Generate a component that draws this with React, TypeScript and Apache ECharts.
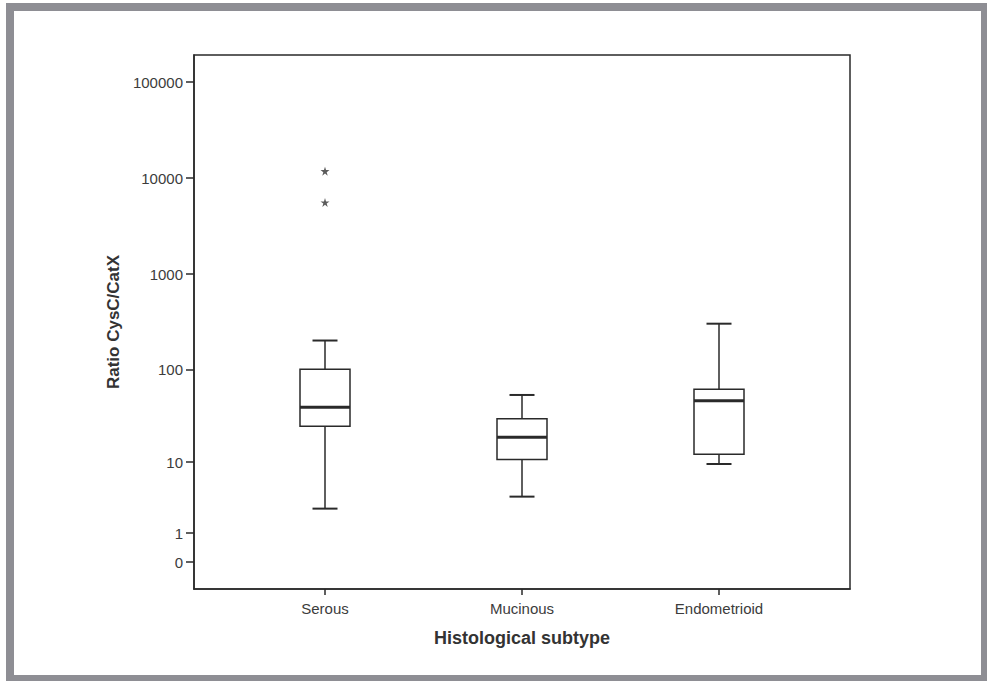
import React, { useEffect, useRef } from "react";
import * as echarts from "echarts";

// ---- Data ----
const categories = ["Serous", "Mucinous", "Endometrioid"];
const whiskerLow = [2.6, 3.8, 9.5];
const quartile1 = [25, 10.7, 12.3];
const medians = [40, 19, 47];
const quartile3 = [101, 30, 62];
const whiskerHigh = [202, 54, 303];
// [category index, value]
const outliers: [number, number][] = [
  [0, 11800],
  [0, 5570],
];
const yTickValues = [0, 1, 10, 100, 1000, 10000, 100000];

// axis scale used by the original: log10(value + 1)
const tf = (v: number) => Math.log10(v + 1);

const FONT = "'Liberation Sans', Arial, sans-serif";
const LINE = "#2a2a2a";
const TEXT = "#3c3c3c";
const FRAME = "#8e8e94";

const STAR =
  "path://M50,0 L61,35 L98,35 L68,57 L79,91 L50,70 L21,91 L32,57 L2,35 L39,35 Z";

export default function App() {
  const ref = useRef<HTMLDivElement>(null);

  useEffect(() => {
    if (!ref.current) return;
    const chart = echarts.init(ref.current, undefined, { renderer: "svg" });

    const boxData = categories.map((_, i) => [
      i + 1,
      tf(whiskerLow[i]),
      tf(quartile1[i]),
      tf(medians[i]),
      tf(quartile3[i]),
      tf(whiskerHigh[i]),
    ]);
    const outlierData = outliers.map(([i, v]) => [i + 1, tf(v)]);
    const yCustom = yTickValues.map(tf);

    const yLabel = (val: number) => {
      let best = 0;
      let d = Infinity;
      yCustom.forEach((t, k) => {
        const dd = Math.abs(t - val);
        if (dd < d) {
          d = dd;
          best = k;
        }
      });
      return String(yTickValues[best]);
    };

    const option: any = {
      animation: false,
      backgroundColor: "#ffffff",
      textStyle: { fontFamily: FONT },
      graphic: [
        { type: "rect", shape: { x: 6, y: 3, width: 981, height: 8 }, style: { fill: FRAME } },
        { type: "rect", shape: { x: 6, y: 3, width: 8, height: 678 }, style: { fill: FRAME } },
        { type: "rect", shape: { x: 981, y: 3, width: 6, height: 678 }, style: { fill: FRAME } },
        { type: "rect", shape: { x: 6, y: 675, width: 981, height: 6 }, style: { fill: FRAME } },
      ],
      grid: {
        left: 194,
        top: 55,
        right: 137,
        bottom: 92,
        show: true,
        borderColor: LINE,
        borderWidth: 1.5,
        backgroundColor: "#ffffff",
      },
      xAxis: {
        type: "value",
        min: 1 - 131 / 197,
        max: 3 + 131 / 197,
        name: "Histological subtype",
        nameLocation: "middle",
        nameGap: 40,
        nameTextStyle: { fontFamily: FONT, fontSize: 18, fontWeight: "bold", color: "#333" },
        splitLine: { show: false },
        axisLine: { show: true, onZero: false, lineStyle: { color: LINE, width: 1.5 } },
        axisTick: {
          show: true,
          length: 6,
          customValues: [1, 2, 3],
          lineStyle: { color: LINE, width: 1.5 },
        },
        axisLabel: {
          customValues: [1, 2, 3],
          margin: 12,
          fontFamily: FONT,
          fontSize: 15,
          color: TEXT,
          formatter: (v: number) => categories[Math.round(v) - 1] ?? "",
        },
      },
      yAxis: {
        type: "value",
        min: -0.281,
        max: 5.282,
        name: "Ratio CysC/CatX",
        nameLocation: "middle",
        nameGap: 71,
        nameRotate: 90,
        nameTextStyle: { fontFamily: FONT, fontSize: 17, fontWeight: "bold", color: "#333" },
        splitLine: { show: false },
        axisLine: { show: true, onZero: false, lineStyle: { color: LINE, width: 1.5 } },
        axisTick: {
          show: true,
          length: 8,
          customValues: yCustom,
          lineStyle: { color: LINE, width: 1.5 },
        },
        axisLabel: {
          customValues: yCustom,
          margin: 11,
          fontFamily: FONT,
          fontSize: 15,
          color: TEXT,
          formatter: (v: number) => yLabel(v),
        },
      },
      series: [
        {
          type: "custom",
          data: boxData,
          encode: { x: 0, y: [1, 2, 3, 4, 5] },
          renderItem: (params: any, api: any) => {
            const x = api.value(0);
            const lo = api.coord([x, api.value(1)]);
            const q1 = api.coord([x, api.value(2)]);
            const med = api.coord([x, api.value(3)]);
            const q3 = api.coord([x, api.value(4)]);
            const hi = api.coord([x, api.value(5)]);
            const cx = lo[0];
            const half = 25;
            const cap = 12.5;
            const stroke = { stroke: LINE, lineWidth: 1.5, fill: "none" };
            return {
              type: "group",
              children: [
                { type: "line", shape: { x1: cx, y1: hi[1], x2: cx, y2: q3[1] }, style: stroke },
                { type: "line", shape: { x1: cx, y1: q1[1], x2: cx, y2: lo[1] }, style: stroke },
                { type: "line", shape: { x1: cx - cap, y1: hi[1], x2: cx + cap, y2: hi[1] }, style: { ...stroke, lineWidth: 2 } },
                { type: "line", shape: { x1: cx - cap, y1: lo[1], x2: cx + cap, y2: lo[1] }, style: { ...stroke, lineWidth: 2 } },
                {
                  type: "rect",
                  shape: { x: cx - half, y: q3[1], width: half * 2, height: q1[1] - q3[1] },
                  style: { fill: "#ffffff", stroke: LINE, lineWidth: 1.5 },
                },
                { type: "line", shape: { x1: cx - half, y1: med[1], x2: cx + half, y2: med[1] }, style: { ...stroke, lineWidth: 3 } },
              ],
            };
          },
        },
        {
          type: "scatter",
          data: outlierData,
          symbol: STAR,
          symbolSize: 9,
          itemStyle: { color: "#333" },
        },
      ],
    };

    chart.setOption(option);
    return () => chart.dispose();
  }, []);

  return (
    <div
      ref={ref}
      style={{ position: "fixed", left: 0, top: 0, width: 987, height: 681, background: "#fff" }}
    />
  );
}
